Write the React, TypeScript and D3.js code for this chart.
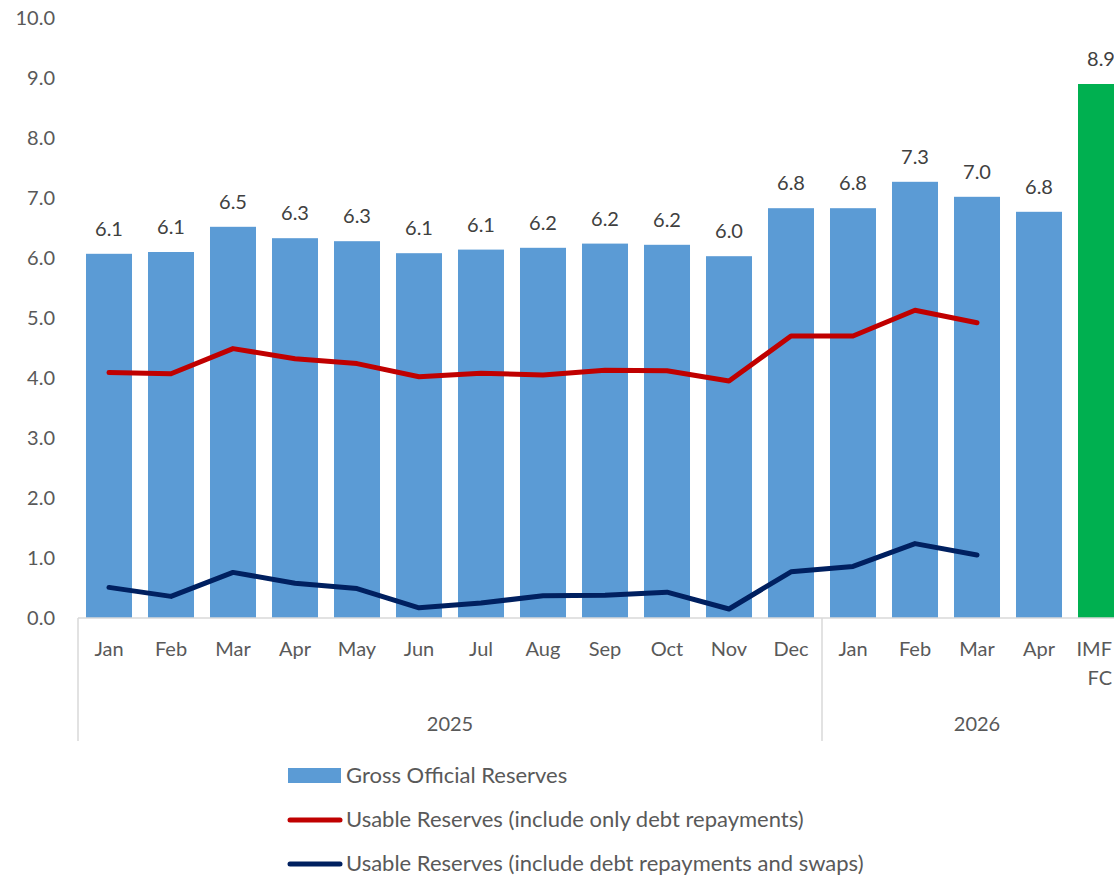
import * as d3 from "d3";
import { useEffect, useRef } from "react";

// categories (month, year group)
const months = ["Jan","Feb","Mar","Apr","May","Jun","Jul","Aug","Sep","Oct","Nov","Dec","Jan","Feb","Mar","Apr","IMF FC"];
const years = ["2025","2025","2025","2025","2025","2025","2025","2025","2025","2025","2025","2025","2026","2026","2026","2026","2026"];

// series values (USD bn)
const grossReserves = [6.07, 6.1, 6.52, 6.33, 6.28, 6.08, 6.14, 6.17, 6.24, 6.22, 6.03, 6.83, 6.83, 7.27, 7.02, 6.77, 8.9];
const usableDebtOnly = [4.09, 4.07, 4.49, 4.32, 4.24, 4.02, 4.08, 4.05, 4.13, 4.12, 3.95, 4.7, 4.7, 5.13, 4.92];
const usableDebtSwaps = [0.51, 0.36, 0.76, 0.58, 0.49, 0.17, 0.25, 0.37, 0.38, 0.43, 0.15, 0.77, 0.86, 1.24, 1.05];

const yTicks = [0, 1, 2, 3, 4, 5, 6, 7, 8, 9, 10];

const legendLabels = [
  "Gross Official Reserves",
  "Usable Reserves (include only debt repayments)",
  "Usable Reserves (include debt repayments and swaps)",
];

const W = 1114;
const H = 877;
const FONT = "Lato, 'Open Sans', sans-serif";
const TEXT = "#595959";

const App = () => {
  const ref = useRef<SVGSVGElement>(null);

  useEffect(() => {
    const svg = d3.select(ref.current);
    svg.selectAll("*").remove();

    const keys = months.map((m, i) => years[i] + "-" + m);
    const x = d3.scaleBand<string>().domain(keys).range([78, 78 + 62 * keys.length])
      .paddingInner(0.258).paddingOuter(0.129);
    const y = d3.scaleLinear().domain([0, 10]).range([618, 18]);

    // y labels
    svg.append("g")
      .selectAll("text")
      .data(yTicks)
      .join("text")
      .attr("x", 55)
      .attr("y", (d) => y(d))
      .attr("dy", "0.36em")
      .attr("text-anchor", "end")
      .attr("fill", TEXT)
      .attr("font-family", FONT)
      .attr("font-size", 20)
      .text((d) => d.toFixed(1));

    // bars
    svg.append("g")
      .selectAll("rect")
      .data(grossReserves)
      .join("rect")
      .attr("x", (d, i) => x(keys[i])!)
      .attr("y", (d) => y(d))
      .attr("width", x.bandwidth())
      .attr("height", (d) => y(0) - y(d))
      .attr("fill", (d, i) => (months[i] === "IMF FC" ? "#00B050" : "#5B9BD5"));

    // bar labels
    svg.append("g")
      .selectAll("text")
      .data(grossReserves)
      .join("text")
      .attr("x", (d, i) => x(keys[i])! + x.bandwidth() / 2)
      .attr("y", (d) => y(d) - 18)
      .attr("text-anchor", "middle")
      .attr("fill", "#404040")
      .attr("font-family", FONT)
      .attr("font-size", 20)
      .text((d) => d.toFixed(1));

    // lines
    const line = d3.line<number>()
      .x((d, i) => x(keys[i])! + x.bandwidth() / 2)
      .y((d) => y(d));

    svg.append("path")
      .datum(usableDebtOnly)
      .attr("d", line)
      .attr("fill", "none")
      .attr("stroke", "#C00000")
      .attr("stroke-width", 5)
      .attr("stroke-linecap", "round")
      .attr("stroke-linejoin", "round");

    svg.append("path")
      .datum(usableDebtSwaps)
      .attr("d", line)
      .attr("fill", "none")
      .attr("stroke", "#002060")
      .attr("stroke-width", 5)
      .attr("stroke-linecap", "round")
      .attr("stroke-linejoin", "round");

    // category axis
    const ax = svg.append("g");
    ax.append("line")
      .attr("x1", 78).attr("x2", W)
      .attr("y1", y(0)).attr("y2", y(0))
      .attr("stroke", "#D9D9D9").attr("stroke-width", 1.5);

    // group boundaries
    const groups = Array.from(new Set(years));
    const bounds: number[] = [];
    groups.forEach((g) => {
      const first = years.indexOf(g);
      const last = years.lastIndexOf(g);
      const x0 = x(keys[first])! - x.step() * x.paddingInner() / 2;
      const x1 = x(keys[last])! + x.bandwidth() + x.step() * x.paddingInner() / 2;
      bounds.push(x0, x1);
      ax.append("text")
        .attr("x", (x0 + x1) / 2)
        .attr("y", 731)
        .attr("text-anchor", "middle")
        .attr("fill", TEXT)
        .attr("font-family", FONT)
        .attr("font-size", 20)
        .text(g);
    });
    Array.from(new Set(bounds.map((b) => Math.round(b)))).forEach((b) => {
      ax.append("line")
        .attr("x1", b).attr("x2", b)
        .attr("y1", y(0)).attr("y2", 741)
        .attr("stroke", "#D9D9D9").attr("stroke-width", 1.5);
    });

    ax.selectAll("text.cat")
      .data(months)
      .join("text")
      .attr("class", "cat")
      .attr("x", (d, i) => x(keys[i])! + x.bandwidth() / 2)
      .attr("y", 656)
      .attr("text-anchor", "middle")
      .attr("fill", TEXT)
      .attr("font-family", FONT)
      .attr("font-size", 20)
      .each(function (d) {
        const cx = +d3.select(this).attr("x");
        const parts = d.split(" ");
        d3.select(this).selectAll("tspan")
          .data(parts)
          .join("tspan")
          .attr("x", cx)
          .attr("dy", (p, j) => (j === 0 ? 0 : 29))
          .text((p) => p);
        // keep wrapped label inside the picture
        d3.select(this).selectAll<SVGTSpanElement, string>("tspan").each(function () {
          const w = this.getComputedTextLength();
          if (cx + w / 2 > W - 2) d3.select(this).attr("x", W - 2 - w / 2);
        });
      });

    // legend
    const lg = svg.append("g").attr("font-family", FONT).attr("font-size", 22).attr("fill", TEXT);
    const colors = ["#5B9BD5", "#C00000", "#002060"];
    legendLabels.forEach((t, i) => {
      const cy = 776 + i * 44;
      if (i === 0) {
        lg.append("rect").attr("x", 288).attr("y", cy - 8).attr("width", 53).attr("height", 15).attr("fill", colors[i]);
      } else {
        lg.append("line").attr("x1", 290).attr("x2", 340).attr("y1", cy).attr("y2", cy)
          .attr("stroke", colors[i]).attr("stroke-width", 5).attr("stroke-linecap", "round");
      }
      lg.append("text").attr("x", 346).attr("y", cy + 7).text(t);
    });
  }, []);

  return (
    <div style={{ position: "absolute", left: 0, top: 0 }}>
      <svg ref={ref} width={W} height={H} style={{ display: "block", background: "#fff" }} />
    </div>
  );
};

export default App;
